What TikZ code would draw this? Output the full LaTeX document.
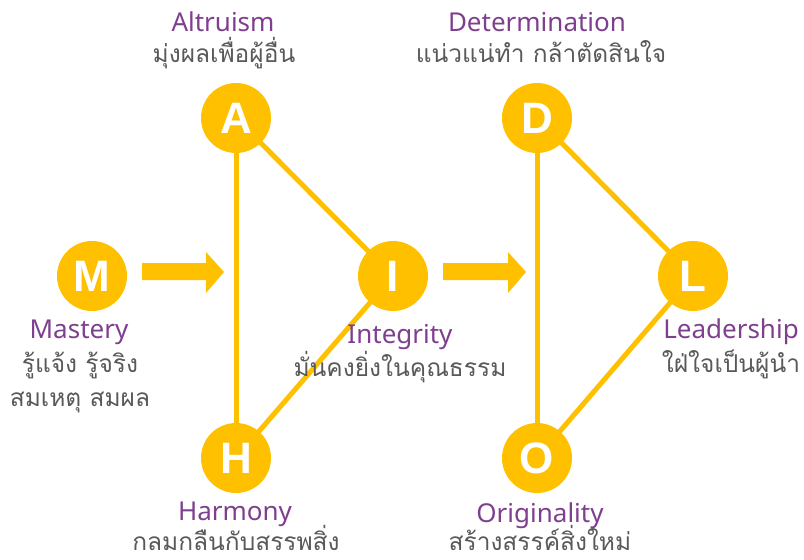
\documentclass[tikz,border=0pt]{standalone}
\usepackage{fontspec}
\setmainfont{Noto Sans}
\newfontfamily\thaifont[Script=Thai]{Loma}
\newfontfamily\letterfont{Liberation Sans}
\definecolor{gold}{HTML}{FFC000}
\definecolor{purp}{HTML}{7F3F8F}
\definecolor{txtgray}{HTML}{595959}
\begin{document}
\begin{tikzpicture}[x=1pt,y=-1pt,
  circ/.style={circle,fill=gold,minimum size=70pt,inner sep=0pt,text=white,font=\letterfont\bfseries\fontsize{44}{44}\selectfont},
  conn/.style={draw=gold,line width=5pt},
  title/.style={text=purp,font=\fontsize{26}{28}\selectfont,inner sep=0pt,anchor=base},
  thai/.style={text=txtgray,font=\thaifont\fontsize{24.5}{34}\selectfont,inner sep=0pt,anchor=base,align=center},
  blockarrow/.style={fill=gold}
]
\useasboundingbox (0,0) rectangle (804,560);
\coordinate (Ac) at (236,118);
\coordinate (Hc) at (236,458);
\coordinate (Ic) at (393,276);
\coordinate (Dc) at (537,118);
\coordinate (Oc) at (537,458);
\coordinate (Lc) at (693,276);
% connectors
\draw[conn] (Ac) -- (Hc);
\draw[conn] (Ac) -- (Ic);
\draw[conn] (Hc) -- (Ic);
\draw[conn] (Dc) -- (Oc);
\draw[conn] (Dc) -- (Lc);
\draw[conn] (Oc) -- (Lc);
% circles
\node[circ] (A) at (Ac) {A};
\node[circ] (H) at (Hc) {H};
\node[circ] (I) at (Ic) {I};
\node[circ] (D) at (Dc) {D};
\node[circ] (O) at (Oc) {O};
\node[circ] (L) at (Lc) {L};
\node[circ] (M) at (92,276) {M};
% block arrows
\fill[blockarrow] (142,263) -- (206,263) -- (206,252) -- (224,272) -- (206,293) -- (206,280) -- (142,280) -- cycle;
\fill[blockarrow] (443,263) -- (508,263) -- (508,252) -- (526,272) -- (508,293) -- (508,280) -- (443,280) -- cycle;
% labels
\node[title] (tA) at (223,31) {Altruism};
\node[thai] (sA) at (224,62) {มุ่งผลเพื่อผู้อื่น};
\node[title] (tD) at (537,31) {Determination};
\node[thai] (sD) at (541,62) {แน่วแน่ทำ กล้าตัดสินใจ};
\node[title] (tM) at (79,338) {Mastery};
\node[thai] (sM1) at (80,372) {รู้แจ้ง รู้จริง};
\node[thai] (sM2) at (80,406) {สมเหตุ สมผล};
\node[title] (tI) at (400,343) {Integrity};
\node[thai] (sI) at (400,376) {มั่นคงยิ่งในคุณธรรม};
\node[title] (tL) at (731,338) {Leadership};
\node[thai] (sL) at (731,372) {ใฝ่ใจเป็นผู้นำ};
\node[title] (tH) at (235,520) {Harmony};
\node[thai] (sH) at (236,550) {กลมกลืนกับสรรพสิ่ง};
\node[title] (tO) at (540,522) {Originality};
\node[thai] (sO) at (540,550) {สร้างสรรค์สิ่งใหม่};
\end{tikzpicture}
\end{document}
